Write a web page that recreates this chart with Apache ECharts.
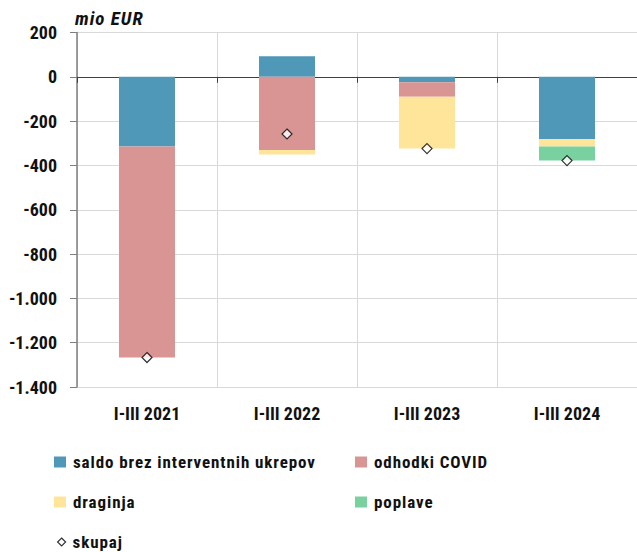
<!DOCTYPE html>
<html><head><meta charset="utf-8">
<script src="https://cdn.jsdelivr.net/npm/echarts@6/dist/echarts.min.js"></script>
<style>html,body{margin:0;padding:0;background:#fff}#c{width:637px;height:552px}</style>
</head><body><div id="c"></div>
<script>
const categories = ['I-III 2021','I-III 2022','I-III 2023','I-III 2024'];
const saldo = [-315, 93, -25, -282];
const covid = [-952, -330, -65, 0];
const draginja = [0, -21, -234, -33];
const poplave = [0, 0, 0, -63];
const skupaj = [-1267, -258, -324, -378];
const yTicks = {min: -1400, max: 200, interval: 200};
const seriesNames = ['saldo brez interventnih ukrepov','odhodki COVID','draginja','poplave','skupaj'];

const FONT = "'Roboto Condensed', 'Open Sans Condensed', sans-serif";
const diamond = 'path://M5,0L10,5L5,10L0,5Z';
const chart = echarts.init(document.getElementById('c'), null, {renderer:'svg'});
function bar(name, data, color){
  return {name, type:'bar', stack:'s', data, barWidth:'40%', itemStyle:{color}, xAxisIndex:0};
}
const legendText = {fontFamily:FONT, fontSize:17, fontWeight:'bold', color:'#111', lineHeight:20, padding:[0,0,0,2]};
const legendItem = (name, left, top, extra, w, h) => ({
  left, top, padding:0, itemWidth:w||12, itemHeight:h||11, itemGap:6,
  textStyle:legendText,
  data:[Object.assign({name, icon:'rect'}, extra||{})]
});
chart.setOption({
  animation:false,
  textStyle:{fontFamily:FONT},
  grid:{left:77, right:0, top:32.5, bottom:165},
  xAxis:[{
    type:'category', data:categories,
    axisLine:{onZero:true, lineStyle:{color:'#404040', width:1.2}},
    axisTick:{show:true, length:6, lineStyle:{color:'#404040'}},
    axisLabel:{show:false},
    splitLine:{show:true, lineStyle:{color:'#d9d9d9', width:1}}
  },{
    type:'category', data:categories, position:'bottom',
    axisLine:{show:false}, axisTick:{show:false},
    axisLabel:{show:true, fontFamily:FONT, fontSize:18, fontWeight:'bold', color:'#111', margin:17}
  }],
  yAxis:{
    type:'value', min:yTicks.min, max:yTicks.max, interval:yTicks.interval,
    name:'mio EUR', nameLocation:'end', nameGap:5,
    nameTextStyle:{fontFamily:FONT, fontStyle:'italic', fontSize:19, fontWeight:'bold', color:'#111', align:'left', padding:[0,0,0,-2]},
    axisLine:{show:true, lineStyle:{color:'#7f7f7f', width:1.5}},
    axisTick:{show:true, length:7, lineStyle:{color:'#7f7f7f'}},
    axisLabel:{fontFamily:FONT, fontSize:18, fontWeight:'bold', color:'#111', margin:20,
      formatter:v=>{const s=Math.abs(v).toString().replace(/\B(?=(\d{3})+(?!\d))/g,'.');return (v<0?'-':'')+s;}},
    splitLine:{show:true, lineStyle:{color:'#d9d9d9', width:1}}
  },
  legend:[
    legendItem(seriesNames[0],54,452),
    legendItem(seriesNames[1],355,452),
    legendItem(seriesNames[2],54,492),
    legendItem(seriesNames[3],355,492),
    legendItem(seriesNames[4],57,532,{icon:diamond, itemStyle:{color:'#fff', borderColor:'#000', borderWidth:1.2}},8,8)
  ],
  series:[
    bar(seriesNames[0], saldo, '#4F98B8'),
    bar(seriesNames[1], covid, '#D99594'),
    bar(seriesNames[2], draginja, '#FFE599'),
    bar(seriesNames[3], poplave, '#79D19F'),
    {name:seriesNames[4], type:'scatter', data:skupaj, symbol:diamond, symbolSize:10, xAxisIndex:0, z:5,
     itemStyle:{color:'#fff', borderColor:'#000', borderWidth:1.2}}
  ]
});
function spacing(){
  document.querySelectorAll('#c svg text').forEach(t=>{
    const s = t.textContent;
    if (seriesNames.includes(s)) t.setAttribute('letter-spacing','0.9');
    else if (s === 'mio EUR') t.setAttribute('letter-spacing','1');
  });
}
spacing();
chart.on('finished', spacing);
setTimeout(spacing, 50);
</script></body></html>
